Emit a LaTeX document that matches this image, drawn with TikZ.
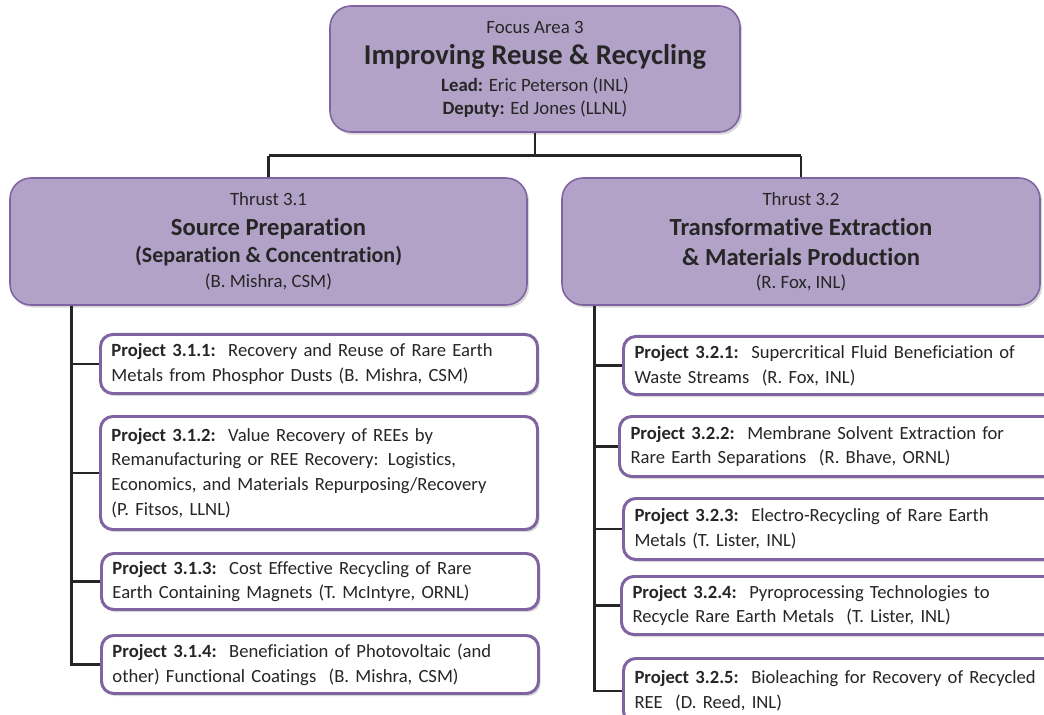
\documentclass[tikz,border=0pt]{standalone}
\usepackage{fontspec}
\setmainfont[Ligatures=NoCommon]{Carlito}
\usetikzlibrary{positioning,calc,shadows}
\definecolor{ink}{HTML}{262626}
\definecolor{plum}{HTML}{8064A2}
\definecolor{plumlight}{HTML}{B3A2C7}

\begin{document}
\begin{tikzpicture}[
  area/.style={draw=plum,fill=plumlight,line width=0.9pt,rounded corners=12pt,
    align=center,text=ink,font=\fontsize{10.7}{12.6}\selectfont,
    drop shadow={shadow xshift=1.2pt,shadow yshift=-1.5pt,opacity=0.3}},
  project/.style={draw=plum,fill=white,line width=1.7pt,rounded corners=7pt,
    align=left,text width=8.3cm,inner xsep=0.22cm,anchor=north west,text=ink,
    font=\fontsize{10.6}{14}\selectfont,
    drop shadow={shadow xshift=1.2pt,shadow yshift=-1.5pt,opacity=0.3}},
  edge/.style={draw=ink,line width=1.6pt}
]
\useasboundingbox (0,0) rectangle (20.88,-14.3);
\clip (0,0) rectangle (20.88,-14.3);
% focus area and thrusts
\node[area,minimum width=8.2cm,minimum height=2.52cm] (focus) at (10.7,-1.38)
  {Focus Area 3\\[5pt]
   {\fontsize{16.3}{19}\selectfont\bfseries Improving Reuse \& Recycling}\\[3.3pt]
   \textbf{Lead:} Eric Peterson (INL)\\
   \textbf{Deputy:} Ed Jones (LLNL)};
\node[area,minimum width=10.34cm,minimum height=2.54cm,
  font=\fontsize{10.7}{14.2}\selectfont] (t31) at (5.37,-4.83)
  {Thrust 3.1\\[2.8pt]
   {\fontsize{14}{17}\selectfont\bfseries Source Preparation}\\[1.1pt]
   {\fontsize{12.5}{15}\selectfont\bfseries (Separation \& Concentration)}\\
   (B. Mishra, CSM)};
\node[area,minimum width=9.56cm,minimum height=2.54cm,
  font=\fontsize{10.7}{13}\selectfont] (t32) at (16.02,-4.83)
  {Thrust 3.2\\[4pt]
   {\fontsize{14}{17}\selectfont\bfseries Transformative Extraction}\\[4pt]
   {\fontsize{14}{17}\selectfont\bfseries \& Materials Production}\\
   (R. Fox, INL)};
% projects of thrust 3.1
\node[project,minimum height=1.18cm] (p311) at (1.98,-6.66)
  {\textbf{Project 3.1.1:}\ \ Recovery and Reuse of Rare Earth\\
   Metals from Phosphor Dusts (B. Mishra, CSM)};
\node[project,minimum height=2.26cm] (p312) at (1.98,-8.30)
  {\textbf{Project 3.1.2:}\ \ Value Recovery of REEs by\\
   Remanufacturing or REE Recovery: Logistics,\\
   Economics, and Materials Repurposing/Recovery\\
   (P. Fitsos, LLNL)};
\node[project,minimum height=1.12cm] (p313) at (2.0,-11.04)
  {\textbf{Project 3.1.3:}\ \ Cost Effective Recycling of Rare\\
   Earth Containing Magnets (T. McIntyre, ORNL)};
\node[project,minimum height=1.16cm] (p314) at (2.0,-12.68)
  {\textbf{Project 3.1.4:}\ \ Beneficiation of Photovoltaic (and\\
   other) Functional Coatings\ \ (B. Mishra, CSM)};
% projects of thrust 3.2
\node[project,text width=8.6cm,minimum height=1.16cm] (p321) at (12.44,-6.70)
  {\textbf{Project 3.2.1:}\ \ Supercritical Fluid Beneficiation of\\
   Waste Streams\ \ (R. Fox, INL)};
\node[project,text width=8.6cm,minimum height=1.2cm] (p322) at (12.36,-8.30)
  {\textbf{Project 3.2.2:}\ \ Membrane Solvent Extraction for\\
   Rare Earth Separations\ \ (R. Bhave, ORNL)};
\node[project,text width=8.6cm,minimum height=1.22cm] (p323) at (12.44,-9.94)
  {\textbf{Project 3.2.3:}\ \ Electro-Recycling of Rare Earth\\
   Metals (T. Lister, INL)};
\node[project,text width=8.6cm,minimum height=1.16cm] (p324) at (12.40,-11.50)
  {\textbf{Project 3.2.4:}\ \ Pyroprocessing Technologies to\\
   Recycle Rare Earth Metals\ \ (T. Lister, INL)};
\node[project,text width=8.6cm,minimum height=1.3cm] (p325) at (12.44,-13.14)
  {\textbf{Project 3.2.5:}\ \ Bioleaching for Recovery of Recycled\\
   REE\ \ (D. Reed, INL)};
% tree lines
\coordinate (split) at ($(focus.south)+(0,-0.46)$);
\draw[edge] (focus.south) -- (split);
\draw[edge] (t31.north |- split) -- (t32.north |- split);
\foreach \t in {t31,t32}
  \draw[edge] (\t.north |- split) -- (\t.north);
\coordinate (lt) at ($(t31.south west)+(1.24,0)$);
\coordinate (rt) at ($(t32.south west)+(0.66,0)$);
\draw[edge] (lt) |- (p314.west);
\foreach \p in {p311,p312,p313}
  \draw[edge] (lt |- \p.west) -- (\p.west);
\draw[edge] (rt) |- (p325.west);
\foreach \p in {p321,p322,p323,p324}
  \draw[edge] (rt |- \p.west) -- (\p.west);
\end{tikzpicture}
\end{document}
